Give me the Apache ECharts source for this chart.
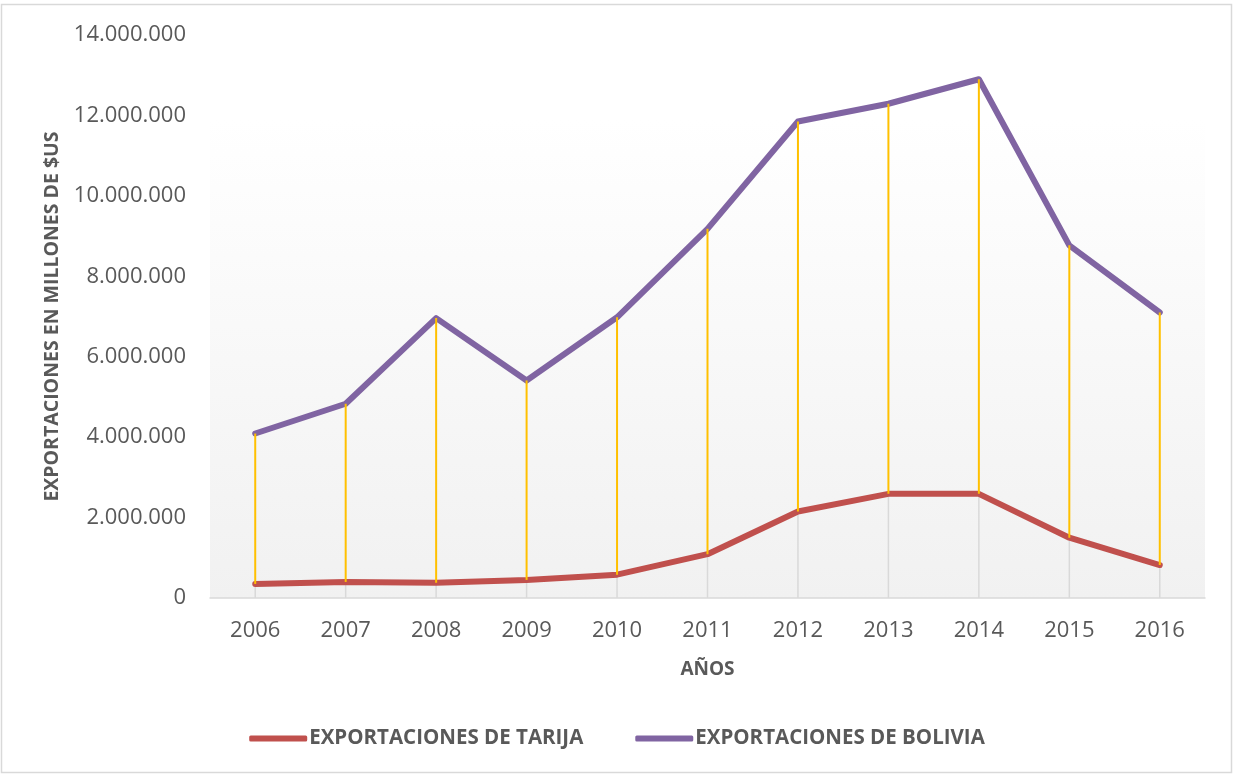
<!DOCTYPE html>
<html>
<head>
<meta charset="utf-8">
<title>Exportaciones Tarija / Bolivia</title>
<script src="https://cdn.jsdelivr.net/npm/echarts@6/dist/echarts.min.js"></script>
<style>
  html, body { margin: 0; padding: 0; background: #fff; }
  #chart { width: 1234px; height: 775px; }
</style>
</head>
<body>
<div id="chart"></div>
<script>
const years = ['2006', '2007', '2008', '2009', '2010', '2011', '2012', '2013', '2014', '2015', '2016'];
const tarija = [350000, 400000, 380000, 450000, 580000, 1090000, 2150000, 2590000, 2590000, 1500000, 820000];
const bolivia = [4090000, 4830000, 6960000, 5410000, 6980000, 9180000, 11850000, 12290000, 12900000, 8770000, 7100000];
const yTicks = [0, 2000000, 4000000, 6000000, 8000000, 10000000, 12000000, 14000000];

const grey = '#595959';
const font = 'Open Sans';

function dotted(v) {
  return String(v).replace(/\B(?=(\d{3})+(?!\d))/g, '.');
}

const pairs = years.map((y, i) => [i, tarija[i], bolivia[i]]);

const chart = echarts.init(document.getElementById('chart'));
chart.setOption({
  backgroundColor: '#fff',
  animation: false,
  textStyle: { fontFamily: font },
  graphic: [{
    type: 'rect',
    shape: { x: 1.5, y: 4.5, width: 1230, height: 768 },
    style: { fill: 'none', stroke: '#d9d9d9', lineWidth: 1.5 },
    silent: true,
    z: -10
  }],
  grid: {
    left: 210, right: 29, top: 35, bottom: 177,
    show: true,
    borderWidth: 0,
    backgroundColor: {
      type: 'linear', x: 0, y: 0, x2: 0, y2: 1,
      colorStops: [
        { offset: 0, color: '#ffffff' },
        { offset: 0.15, color: '#ffffff' },
        { offset: 1, color: '#f1f1f1' }
      ]
    }
  },
  legend: {
    bottom: 21,
    left: 'center',
    icon: 'roundRect',
    itemWidth: 58,
    itemHeight: 6,
    itemGap: 52,
    textStyle: { fontFamily: font, fontSize: 20.5, fontWeight: 'bold', color: grey, padding: [0, 0, 0, -3] },
    data: ['EXPORTACIONES DE TARIJA', 'EXPORTACIONES DE BOLIVIA']
  },
  xAxis: {
    type: 'category',
    data: years,
    boundaryGap: true,
    name: 'AÑOS',
    nameLocation: 'middle',
    nameGap: 62,
    nameTextStyle: { fontFamily: font, fontSize: 19, fontWeight: 'bold', color: grey },
    axisLine: { lineStyle: { color: '#d9d9d9', width: 1.5 } },
    axisTick: { show: false },
    axisLabel: { fontFamily: font, fontSize: 22, color: grey, margin: 22 },
    splitLine: { show: false }
  },
  yAxis: {
    type: 'value',
    min: yTicks[0],
    max: yTicks[yTicks.length - 1],
    interval: yTicks[1] - yTicks[0],
    name: 'EXPORTACIONES EN MILLONES DE $US',
    nameLocation: 'middle',
    nameGap: 148,
    nameTextStyle: { fontFamily: font, fontSize: 19.5, fontWeight: 'bold', color: grey },
    axisLine: { show: false },
    axisTick: { show: false },
    splitLine: { show: false },
    axisLabel: {
      fontFamily: font, fontSize: 22, color: grey, margin: 24,
      formatter: dotted
    }
  },
  series: [
    {
      type: 'custom',
      name: 'drop',
      z: 1,
      silent: true,
      data: pairs,
      encode: { x: 0, y: 1 },
      renderItem: function (params, api) {
        const base = api.coord([api.value(0), 0]);
        const top = api.coord([api.value(0), api.value(1)]);
        return {
          type: 'line',
          shape: { x1: base[0], y1: base[1], x2: top[0], y2: top[1] },
          style: { stroke: '#d9d9d9', lineWidth: 1.5 }
        };
      }
    },
    {
      type: 'line',
      name: 'EXPORTACIONES DE TARIJA',
      data: tarija,
      z: 3,
      symbol: 'none',
      color: '#c0504d',
      lineStyle: { width: 6, color: '#c0504d', cap: 'round', join: 'round' }
    },
    {
      type: 'line',
      name: 'EXPORTACIONES DE BOLIVIA',
      data: bolivia,
      z: 3,
      symbol: 'none',
      color: '#8064a2',
      lineStyle: { width: 6, color: '#8064a2', cap: 'round', join: 'round' }
    },
    {
      type: 'custom',
      name: 'hilo',
      z: 5,
      silent: true,
      data: pairs,
      encode: { x: 0, y: [1, 2] },
      renderItem: function (params, api) {
        const lo = api.coord([api.value(0), api.value(1)]);
        const hi = api.coord([api.value(0), api.value(2)]);
        return {
          type: 'line',
          shape: { x1: lo[0], y1: lo[1], x2: hi[0], y2: hi[1] },
          style: { stroke: '#ffc000', lineWidth: 2 }
        };
      }
    }
  ]
});
</script>
</body>
</html>
